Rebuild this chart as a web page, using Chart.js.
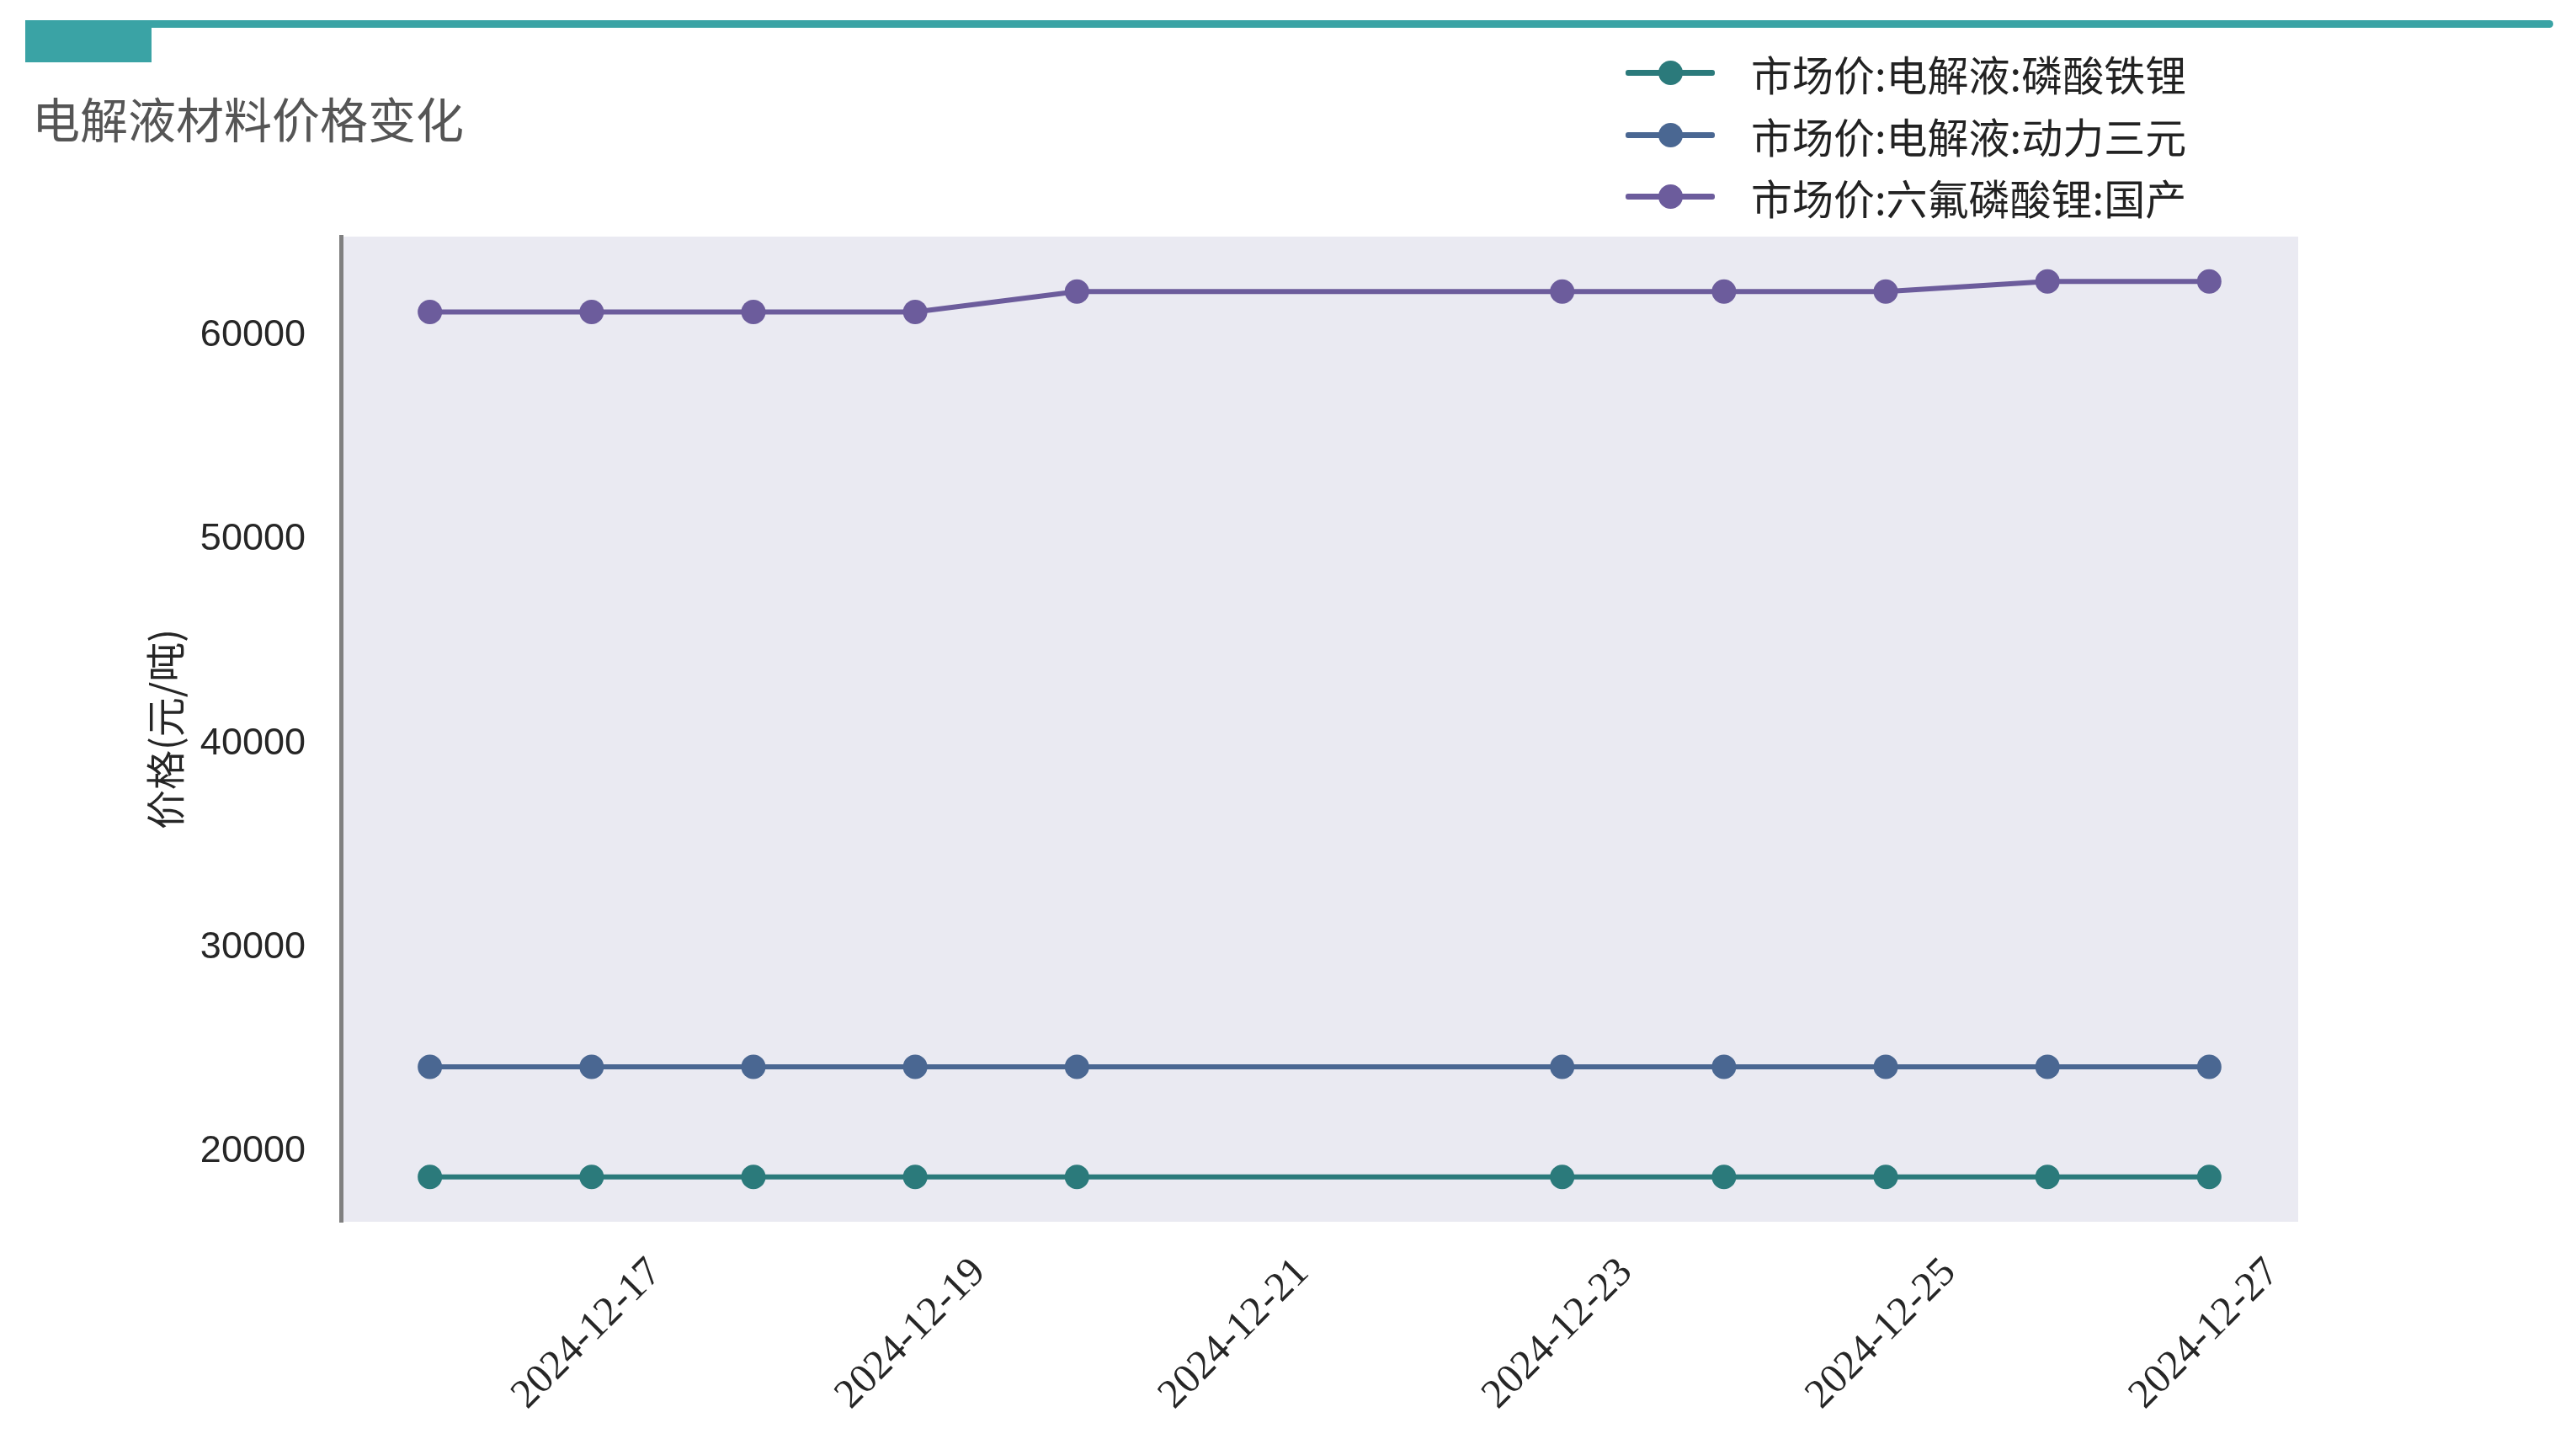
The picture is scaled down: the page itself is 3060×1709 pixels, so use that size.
<!DOCTYPE html>
<html>
<head>
<meta charset="utf-8">
<title>电解液材料价格变化</title>
<script src="https://cdn.jsdelivr.net/npm/chart.js@4.4.1/dist/chart.umd.min.js"></script>
<style>
  html, body { margin: 0; padding: 0; background: #fff; }
  #page { position: relative; width: 3060px; height: 1709px; overflow: hidden; }
  #chartBox { position: absolute; left: 0; top: 0; width: 3060px; height: 1709px; }
  .bar-line { position: absolute; left: 30px; top: 24px; width: 3003px; height: 9px; background: #3aa3a5; border-radius: 5px; }
  .bar-tab { position: absolute; left: 30px; top: 24px; width: 150px; height: 50px; background: #3aa3a5; }
  #title { position: absolute; left: 38px; top: 101px; font: 57px "Noto Sans CJK SC", sans-serif; color: #555; line-height: 76px; }
  #legend { position: absolute; left: 1931px; top: 50px; }
  .legend-row { position: relative; height: 73.5px; }
  .legend-line { position: absolute; left: 0; top: 33px; width: 106px; height: 7px; border-radius: 3px; }
  .legend-dot { position: absolute; left: 39px; top: 22px; width: 29px; height: 29px; border-radius: 50%; }
  .legend-text { position: absolute; left: 149px; top: 0; white-space: nowrap; font: 49px "Noto Sans CJK SC", sans-serif; color: #222; line-height: 73px; }
</style>
</head>
<body>
<div id="page">
  <div id="chartBox"><canvas id="priceChart"></canvas></div>
  <div class="bar-line"></div>
  <div class="bar-tab"></div>
  <div id="title">电解液材料价格变化</div>
  <div id="legend"></div>
</div>
<script>
// trading days
var dates = ['2024-12-16', '2024-12-17', '2024-12-18', '2024-12-19', '2024-12-20',
             '2024-12-23', '2024-12-24', '2024-12-25', '2024-12-26', '2024-12-27'];
var lfpElectrolyte = [18600, 18600, 18600, 18600, 18600, 18600, 18600, 18600, 18600, 18600];
var nmcElectrolyte = [24000, 24000, 24000, 24000, 24000, 24000, 24000, 24000, 24000, 24000];
var lipf6Domestic = [61000, 61000, 61000, 61000, 62000, 62000, 62000, 62000, 62500, 62500];

var seriesNames = ['市场价:电解液:磷酸铁锂', '市场价:电解液:动力三元', '市场价:六氟磷酸锂:国产'];
var seriesColors = ['#2b7a7b', '#4a6792', '#6c5c9c'];

var xTickDates = ['2024-12-17', '2024-12-19', '2024-12-21', '2024-12-23', '2024-12-25', '2024-12-27'];
var yTicks = [20000, 30000, 40000, 50000, 60000];
var yTitle = '价格(元/吨)';

var DAY = 86400000;
function dayNum(s) { return Date.parse(s) / DAY; }
function dayLabel(v) { return new Date(Math.round(v) * DAY).toISOString().slice(0, 10); }

var allSeries = [lfpElectrolyte, nmcElectrolyte, lipf6Domestic];
var xs = dates.map(dayNum);
var xPad = (xs[xs.length - 1] - xs[0]) * 0.05;
var allVals = [].concat.apply([], allSeries);
var yLo = Math.min.apply(null, allVals), yHi = Math.max.apply(null, allVals);
var yPad = (yHi - yLo) * 0.05;

var datasets = allSeries.map(function (vals, i) {
  return {
    label: seriesNames[i],
    data: vals.map(function (v, j) { return { x: xs[j], y: v }; }),
    borderColor: seriesColors[i],
    backgroundColor: seriesColors[i],
    pointBackgroundColor: seriesColors[i],
    borderWidth: 6,
    pointRadius: 14.5,
    pointBorderWidth: 0,
    pointHoverRadius: 14.5,
    tension: 0,
    fill: false
  };
});

// legend as page text
var legendEl = document.getElementById('legend');
datasets.forEach(function (ds) {
  var row = document.createElement('div');
  row.className = 'legend-row';
  row.innerHTML = '<span class="legend-line" style="background:' + ds.borderColor + '"></span>' +
    '<span class="legend-dot" style="background:' + ds.borderColor + '"></span>' +
    '<span class="legend-text">' + ds.label + '</span>';
  legendEl.appendChild(row);
});

var plotBackground = {
  id: 'plotBackground',
  beforeDraw: function (chart) {
    var a = chart.chartArea, ctx = chart.ctx;
    ctx.save();
    ctx.fillStyle = '#eaeaf2';
    ctx.fillRect(a.left, a.top, a.right - a.left, a.bottom - a.top);
    ctx.restore();
  }
};

var config = {
  type: 'line',
  data: { datasets: datasets },
  options: {
    responsive: true,
    maintainAspectRatio: false,
    animation: false,
    events: [],
    layout: { padding: { top: 281, right: 330, bottom: 0, left: 0 } },
    plugins: {
      legend: { display: false },
      title: { display: false },
      tooltip: { enabled: false }
    },
    scales: {
      x: {
        type: 'linear',
        bounds: 'data',
        min: xs[0] - xPad,
        max: xs[xs.length - 1] + xPad,
        grid: { display: false, drawTicks: false },
        border: { display: false },
        afterBuildTicks: function (scale) {
          scale.ticks = xTickDates.map(function (d) { return { value: dayNum(d) }; });
        },
        afterFit: function (scale) { scale.height = 258; },
        ticks: {
          autoSkip: false,
          minRotation: 45,
          maxRotation: 45,
          padding: 32,
          labelOffset: 76,
          color: '#262626',
          font: { family: '"Liberation Serif", serif', size: 49 },
          callback: function (v) { return dayLabel(v); }
        }
      },
      y: {
        type: 'linear',
        bounds: 'data',
        min: yLo - yPad,
        max: yHi + yPad,
        grid: { display: false, drawTicks: false },
        border: { display: true, color: '#808080', width: 5 },
        afterBuildTicks: function (scale) {
          scale.ticks = yTicks.map(function (v) { return { value: v }; });
        },
        afterFit: function (scale) { scale.width = 405; },
        title: {
          display: true,
          text: yTitle,
          color: '#262626',
          font: { family: '"Noto Sans CJK SC", sans-serif', size: 47 },
          padding: { top: 168, bottom: 0 }
        },
        ticks: {
          padding: 42,
          labelOffset: 4,
          color: '#262626',
          font: { family: '"Liberation Sans", Arial, sans-serif', size: 45 },
          callback: function (v) { return String(v); }
        }
      }
    }
  },
  plugins: [plotBackground]
};

var ctx = document.getElementById('priceChart');
if (ctx) {
  window.priceChart = new Chart(ctx.getContext('2d'), config);
}
</script>
</body>
</html>
